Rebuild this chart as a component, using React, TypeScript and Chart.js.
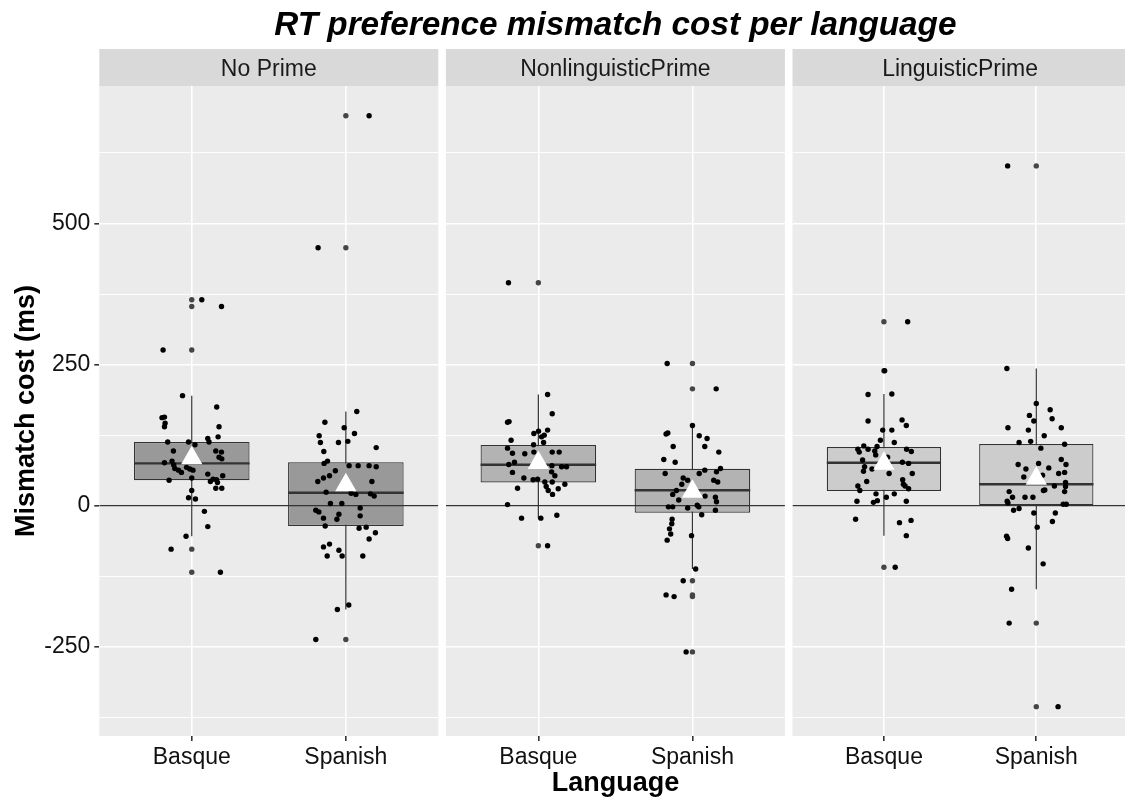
import React, { useEffect, useRef } from "react";
import { Chart, registerables } from "chart.js";

Chart.register(...registerables);

const FONT = '"Liberation Sans", Arial, Helvetica, sans-serif';
Chart.defaults.font.family = FONT;

// ---------- data ----------
const chartTitle = "RT preference mismatch cost per language";
const primeConditions = ["No Prime", "NonlinguisticPrime", "LinguisticPrime"];
const languages = ["Basque", "Spanish"];
const yTickValues = [-375, -250, -125, 0, 125, 250, 375, 500, 625];
const yLabelledTicks = [-250, 0, 250, 500];

// jitter offsets (category units) and mismatch costs (ms)
const noPrimeBasqueJitter = [0.065, 0.193, -0.186, -0.06, 0.162, -0.193, -0.177, -0.173, -0.177, 0.177, 0.171, 0.104, 0.112, -0.156, -0.021, 0.021, -0.119, 0.156, 0.193, 0.177, 0.195, -0.128, -0.177, -0.117, -0.11, -0.086, -0.067, -0.034, -0.013, 0.008, 0.0, -0.147, 0.104, 0.121, 0.138, 0.16, 0.167, 0.201, 0.156, 0.195, 0.0, -0.021, 0.024, 0.082, 0.104, -0.037, -0.134, 0.186];
const noPrimeBasqueCost = [365, 353, 276, 195, 175, 156, 157, 146, 140, 140, 122, 119, 113, 113, 113, 108, 97, 97, 95, 86, 83, 79, 76, 72, 66, 63, 59, 68, 65, 63, 49, 45, 56, 43, 47, 46, 41, 53, 31, 31, 27, 14, 12, -10, -37, -54, -77, -118];

const noPrimeSpanishJitter = [0.071, -0.136, -0.011, 0.056, -0.173, -0.165, -0.048, 0.013, 0.197, -0.143, -0.141, -0.119, 0.021, 0.08, 0.151, 0.197, -0.068, -0.106, -0.145, -0.182, 0.169, -0.128, 0.034, 0.065, 0.16, 0.184, -0.1, -0.026, 0.093, -0.195, -0.175, -0.045, -0.058, 0.093, -0.145, -0.134, 0.086, 0.132, 0.192, 0.151, -0.145, -0.106, -0.045, -0.121, -0.024, 0.11, 0.019, -0.055, -0.195, 0.151, -0.18];
const noPrimeSpanishCost = [167, 148, 138, 128, 124, 112, 112, 114, 103, 96, 75, 79, 71, 71, 71, 69, 62, 53, 49, 43, 43, 24, 22, 20, 21, 17, 4, 4, -4, -8, -11, -15, -24, -18, -22, -36, -40, -38, -48, -59, -73, -68, -79, -89, -89, -89, -176, -184, -237, 691, 457];

const nonlingBasqueJitter = [-0.194, 0.06, 0.09, -0.2, -0.19, 0.06, 0.001, -0.029, 0.038, 0.021, 0.034, -0.031, -0.177, -0.2, -0.168, -0.088, -0.029, 0.09, 0.135, -0.192, -0.155, -0.168, 0.088, 0.151, 0.183, 0.086, 0.107, -0.094, -0.034, -0.005, 0.042, 0.09, 0.051, 0.064, 0.092, 0.129, 0.172, -0.135, -0.2, -0.109, 0.016, 0.12, 0.06];
const nonlingBasqueCost = [395, 197, 163, 148, 149, 134, 132, 128, 125, 122, 112, 108, 116, 102, 93, 92, 95, 95, 95, 73, 77, 59, 71, 69, 69, 60, 53, 49, 46, 47, 42, 42, 34, 27, 20, 30, 38, 31, 2, -22, -22, -17, -71];

const nonlingSpanishJitter = [-0.164, 0.154, 0.0, -0.171, -0.16, 0.044, 0.095, -0.125, 0.08, 0.171, -0.186, -0.112, -0.177, 0.044, 0.08, 0.156, 0.182, 0.138, 0.164, -0.06, -0.031, -0.069, -0.104, -0.128, -0.089, 0.082, 0.149, 0.156, -0.156, -0.128, -0.031, 0.031, 0.041, 0.06, 0.149, -0.132, -0.134, -0.149, -0.141, -0.164, -0.006, 0.021, -0.06, -0.171, -0.119, -0.041];
const nonlingSpanishCost = [252, 207, 142, 127, 129, 124, 119, 105, 105, 95, 82, 77, 57, 57, 63, 60, 66, 45, 42, 49, 45, 38, 27, 20, 10, 17, 15, 7, -2, -2, -4, 1, -2, -16, -8, -24, -32, -41, -50, -61, -53, -112, -133, -158, -161, -259];

const lingBasqueJitter = [0.156, 0.005, -0.104, 0.052, -0.104, 0.119, 0.147, -0.008, 0.052, -0.023, 0.068, -0.132, -0.171, -0.162, -0.104, -0.045, -0.06, 0.149, 0.18, -0.054, 0.024, -0.14, -0.127, -0.134, -0.078, 0.121, 0.162, 0.034, 0.186, -0.113, 0.123, 0.128, 0.139, 0.162, -0.171, -0.158, -0.052, 0.068, 0.016, -0.177, -0.069, -0.043, 0.147, -0.186, 0.102, 0.178, 0.147, 0.074];
const lingBasqueCost = [326, 239, 197, 198, 150, 152, 142, 134, 134, 116, 112, 106, 100, 95, 100, 105, 97, 100, 96, 90, 86, 81, 69, 61, 65, 77, 75, 57, 57, 43, 46, 38, 35, 30, 35, 27, 21, 21, 15, 8, 6, 9, 8, -24, -30, -26, -53, -109];

const lingSpanishJitter = [-0.188, -0.193, 0.0, 0.091, -0.045, -0.016, 0.104, -0.186, -0.052, 0.164, 0.052, -0.113, -0.037, 0.186, 0.03, 0.164, 0.195, -0.119, -0.068, 0.015, 0.082, -0.082, 0.041, 0.147, 0.186, 0.192, 0.192, 0.119, 0.047, 0.056, 0.186, -0.178, -0.156, -0.074, -0.022, -0.191, -0.186, 0.177, 0.197, -0.149, -0.113, -0.016, 0.125, 0.106, 0.006, -0.195, -0.188, -0.052, 0.045, -0.162, -0.178, 0.143];
const lingSpanishCost = [602, 243, 181, 170, 160, 150, 154, 138, 134, 138, 124, 112, 114, 109, 102, 82, 73, 73, 65, 75, 67, 51, 54, 57, 59, 41, 34, 35, 27, 28, 25, 25, 15, 15, 15, 8, 5, 2.5, 2.5, -8, -5, -13, -13, -28, -38, -54, -58, -75, -103, -148, -208, -356];

// box-plot statistics per panel: [Basque, Spanish]
const lowerWhisker = [[-54, -184], [-22, -112], [-53, -148]];
const lowerHinge = [[45, -36], [41, -12.4], [26, 0.7]];
const medianCost = [[75, 23], [72.6, 27.3], [76, 38]];
const upperHinge = [[113, 77], [107.5, 65.6], [104, 109.3]];
const upperWhisker = [[195, 167], [197, 142], [198, 243]];
const meanCost = [[84.5, 36.5], [76, 25], [74.5, 48]];

const jitterByPanel = [
  [noPrimeBasqueJitter, noPrimeSpanishJitter],
  [nonlingBasqueJitter, nonlingSpanishJitter],
  [lingBasqueJitter, lingSpanishJitter],
];
const costByPanel = [
  [noPrimeBasqueCost, noPrimeSpanishCost],
  [nonlingBasqueCost, nonlingSpanishCost],
  [lingBasqueCost, lingSpanishCost],
];

// ---------- layout & style ----------
const CANVAS_W = 1140;
const CANVAS_H = 798;
const PANEL_LEFT = [99.3, 445.9, 792.5];
const PANEL_WIDTH = 339;
const Y_AXIS_WIDTH = 99.3;
const X_AXIS_HEIGHT = 62;
const TOP_PAD = 49;
const X_MIN = 0.4;
const X_MAX = 2.6;
const Y_MIN = -408;
const Y_MAX = 743.6;
const BOX_HALF = 0.375;
const BOX_FILL = ["#999999", "#B3B3B3", "#CCCCCC"];
const DARK = "#333333";
const TEXT = "#111111";

const panelBackground = {
  id: "panelBackground",
  beforeDraw(chart: any) {
    const { ctx, chartArea } = chart;
    const tb = chart.titleBlock;
    const w = chartArea.right - chartArea.left;
    ctx.save();
    if (tb) {
      ctx.fillStyle = "#D9D9D9";
      ctx.fillRect(chartArea.left, tb.top, w, tb.bottom - tb.top);
    }
    ctx.fillStyle = "#EBEBEB";
    ctx.fillRect(chartArea.left, chartArea.top, w, chartArea.bottom - chartArea.top);
    ctx.restore();
  },
};

function buildConfig(i: number): any {
  const observations: any[] = [];
  const outliers: any[] = [];
  const medians: any[] = [];
  const whiskers: any[] = [];
  languages.forEach((_, k) => {
    const cx = k + 1;
    costByPanel[i][k].forEach((v, j) => {
      observations.push({ x: cx + jitterByPanel[i][k][j], y: v });
      if (v < lowerWhisker[i][k] || v > upperWhisker[i][k]) outliers.push({ x: cx, y: v });
    });
    if (k > 0) {
      medians.push({ x: cx - 0.5, y: null });
      whiskers.push({ x: cx - 0.5, y: null });
    }
    medians.push({ x: cx - BOX_HALF, y: medianCost[i][k] }, { x: cx + BOX_HALF, y: medianCost[i][k] });
    whiskers.push({ x: cx, y: lowerWhisker[i][k] }, { x: cx, y: upperWhisker[i][k] });
  });
  const boxes = languages.map((_, k) => ({ x: k + 1, y: [lowerHinge[i][k], upperHinge[i][k]] }));
  const means = languages.map((_, k) => ({ x: k + 1, y: meanCost[i][k] }));
  const isMajor = (v: number) => yLabelledTicks.includes(v);
  const first = i === 0;

  return {
    type: "scatter",
    data: {
      datasets: [
        { type: "scatter", label: "mean", data: means, pointStyle: "triangle", pointRadius: 12.3, backgroundColor: "#FFFFFF", borderWidth: 0, order: 0 },
        { type: "scatter", label: "observations", data: observations, pointRadius: 2.7, backgroundColor: "#000000", borderWidth: 0, order: 1 },
        { type: "scatter", label: "outliers", data: outliers, pointRadius: 2.7, backgroundColor: "#454545", borderWidth: 0, order: 2 },
        { type: "line", label: "zero", data: [{ x: X_MIN, y: 0 }, { x: X_MAX, y: 0 }], showLine: true, borderColor: DARK, borderWidth: 1.3, pointRadius: 0, order: 3 },
        { type: "line", label: "median", data: medians, showLine: true, spanGaps: false, borderColor: DARK, borderWidth: 2.4, pointRadius: 0, order: 4 },
        { type: "bar", label: "IQR", data: boxes, backgroundColor: BOX_FILL[i], borderColor: DARK, borderWidth: 1.2, borderSkipped: false, barPercentage: 0.75, categoryPercentage: 1, order: 5 },
        { type: "line", label: "whisker", data: whiskers, showLine: true, spanGaps: false, borderColor: DARK, borderWidth: 1.2, pointRadius: 0, order: 6 },
      ],
    },
    options: {
      animation: false,
      responsive: false,
      devicePixelRatio: 1,
      events: [],
      layout: {
        padding: {
          top: TOP_PAD,
          bottom: 0,
          left: first ? 0 : PANEL_LEFT[i],
          right: CANVAS_W - (PANEL_LEFT[i] + PANEL_WIDTH),
        },
      },
      plugins: {
        legend: { display: false },
        tooltip: { enabled: false },
        title: {
          display: true,
          fullSize: false,
          text: primeConditions[i],
          color: "#1A1A1A",
          font: { family: FONT, size: 23, weight: "normal", lineHeight: "32px" },
          padding: { top: 5, bottom: 0 },
        },
      },
      scales: {
        x: {
          type: "linear",
          min: X_MIN,
          max: X_MAX,
          offset: false,
          afterBuildTicks: (s: any) => {
            s.ticks = languages.map((_, k) => ({ value: k + 1 }));
          },
          afterFit: (s: any) => {
            s.height = X_AXIS_HEIGHT;
          },
          grid: { offset: false, color: "#FFFFFF", lineWidth: 1.6, tickColor: DARK, tickLength: 5 },
          border: { display: false },
          ticks: {
            padding: 2.5,
            color: TEXT,
            autoSkip: false,
            maxRotation: 0,
            font: { family: FONT, size: 23 },
            callback: (v: any) => languages[Math.round(v) - 1] ?? "",
          },
          title: {
            display: i === 1,
            text: "Language",
            color: "#000000",
            font: { family: FONT, size: 27, weight: "bold", lineHeight: 1.08 },
            padding: 0,
          },
        },
        y: {
          type: "linear",
          min: Y_MIN,
          max: Y_MAX,
          offset: false,
          afterBuildTicks: (s: any) => {
            s.ticks = yTickValues.map((v) => ({ value: v }));
          },
          afterFit: (s: any) => {
            s.width = first ? Y_AXIS_WIDTH : 0;
          },
          grid: {
            offset: false,
            color: "#FFFFFF",
            lineWidth: (c: any) => (c.tick && isMajor(c.tick.value) ? 1.6 : 0.9),
            tickColor: (c: any) => (c.tick && isMajor(c.tick.value) ? DARK : "rgba(0,0,0,0)"),
            tickLength: 5,
            drawTicks: first,
          },
          border: { display: false },
          ticks: {
            display: first,
            padding: 4,
            color: TEXT,
            font: { family: FONT, size: 23 },
            callback: (v: any) => (isMajor(v) ? String(v) : ""),
          },
          title: {
            display: first,
            text: "Mismatch cost (ms)",
            color: "#000000",
            font: { family: FONT, size: 27, weight: "bold", lineHeight: 1.2 },
            padding: { top: 10, bottom: 0 },
          },
        },
      },
    },
    plugins: [panelBackground],
  };
}

export default function App() {
  const r0 = useRef<HTMLCanvasElement>(null);
  const r1 = useRef<HTMLCanvasElement>(null);
  const r2 = useRef<HTMLCanvasElement>(null);
  const refs = [r0, r1, r2];

  useEffect(() => {
    const charts = refs.map((r, i) => new Chart(r.current as HTMLCanvasElement, buildConfig(i)));
    return () => charts.forEach((c) => c.destroy());
  }, []);

  return (
    <div
      style={{
        position: "fixed",
        left: 0,
        top: 0,
        width: 1125,
        height: 798,
        overflow: "hidden",
        background: "#FFFFFF",
      }}
    >
      {refs.map((r, i) => (
        <canvas
          key={i}
          ref={r}
          width={CANVAS_W}
          height={CANVAS_H}
          style={{ position: "absolute", left: 0, top: 0, width: CANVAS_W, height: CANVAS_H }}
        />
      ))}
      <div
        style={{
          position: "absolute",
          left: PANEL_LEFT[0],
          top: 3.6,
          width: PANEL_LEFT[2] + PANEL_WIDTH - PANEL_LEFT[0],
          textAlign: "center",
          font: `italic bold 33.3px ${FONT}`,
          lineHeight: "40px",
          color: "#000000",
          whiteSpace: "nowrap",
        }}
      >
        {chartTitle}
      </div>
    </div>
  );
}
